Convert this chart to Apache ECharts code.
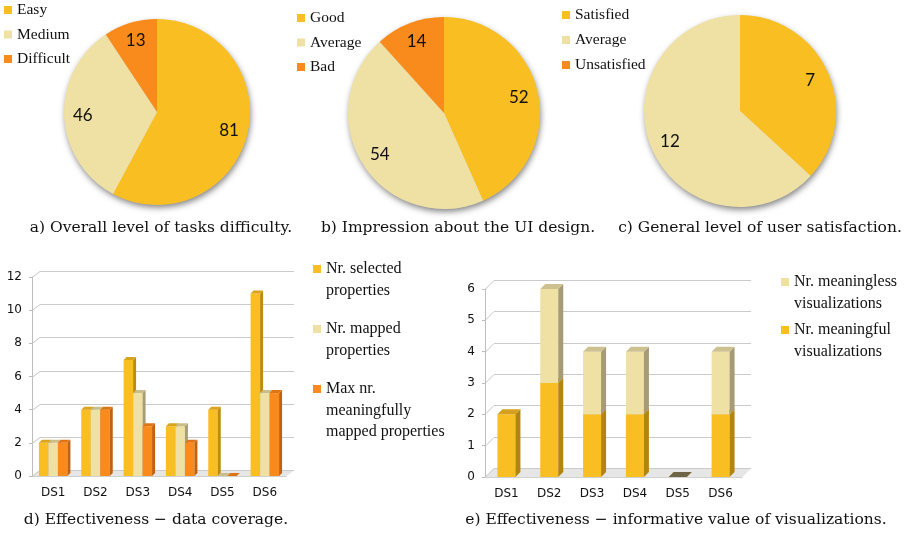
<!DOCTYPE html>
<html>
<head>
<meta charset="utf-8">
<script src="https://cdn.jsdelivr.net/npm/echarts@6/dist/echarts.min.js"></script>
<style>
html,body{margin:0;padding:0;background:#fff;}
#main{width:907px;height:534px;}
</style>
</head>
<body>
<div id="main"></div>
<script>
// pie data
var difficultyNames = ['Easy', 'Medium', 'Difficult'];
var difficultyValues = [81, 46, 13];
var designNames = ['Good', 'Average', 'Bad'];
var designValues = [52, 54, 14];
var satisfactionNames = ['Satisfied', 'Average', 'Unsatisfied'];
var satisfactionValues = [7, 12, 0];

// bar data
var datasets = ['DS1', 'DS2', 'DS3', 'DS4', 'DS5', 'DS6'];
var selectedProps = [2, 4, 7, 3, 4, 11];
var mappedProps = [2, 4, 5, 3, 0, 5];
var maxMappedProps = [2, 4, 3, 2, 0, 5];
var coverageTicks = [0, 2, 4, 6, 8, 10, 12];
var meaninglessVis = [0, 3, 2, 2, 0, 2];
var meaningfulVis = [2, 3, 2, 2, 0, 2];
var visTicks = [0, 1, 2, 3, 4, 5, 6];

var SERIF = 'Liberation Serif', CAPSERIF = 'DejaVu Serif', SANS = 'DejaVu Sans', PIEFONT = 'Lato';
var GOLD = '#F9BE22', PALE = '#EFE0A4', ORANGE = '#F98B1C';

var myChart = echarts.init(document.getElementById('main'));

function pieSeries(names, values, center, radius) {
	var colors = [GOLD, PALE, ORANGE];
	var data = [];
	for (var i = 0; i < names.length; i++) {
		data.push({name: names[i], value: values[i], itemStyle: {color: colors[i]}});
	}
	return {
		type: 'pie',
		radius: radius,
		center: center,
		startAngle: 90,
		clockwise: true,
		silent: true,
		avoidLabelOverlap: false,
		data: data,
		label: {
			show: true,
			position: 'inside',
			fontFamily: PIEFONT,
			fontSize: 17,
			color: '#111',
			formatter: function (p) { return p.value > 0 ? String(p.value) : ''; }
		},
		labelLine: {show: false},
		labelLayout: function (p) {
			var r = p.labelRect;
			var lx = r.x + r.width / 2, ly = r.y + r.height / 2;
			return {x: center[0] + (lx - center[0]) * 1.5, y: center[1] + (ly - center[1]) * 1.5};
		}
	};
}

// 3d-looking bar, drawn through the axes
function bar3d(opt) {
	return function (params, api) {
		var cat = api.value(0), val = api.value(1);
		var base = opt.stacked ? api.value(2) : 0;
		if (opt.stacked && val === 0 && base > 0) return null;
		var p0 = api.coord([cat, base]);
		var p1 = api.coord([cat, base + val]);
		var w = opt.width, d = opt.depth;
		var x = p0[0] - opt.slots * w / 2 + opt.slot * w;
		var yb = p0[1], yt = p1[1];
		var topColor = (val === 0 && opt.zeroTop) ? opt.zeroTop : opt.top;
		return {
			type: 'group',
			children: [
				{type: 'rect', shape: {x: x, y: yt, width: w, height: yb - yt}, style: {fill: opt.front}},
				{type: 'polygon', shape: {points: [[x + w, yt], [x + w + d, yt - d], [x + w + d, yb - d], [x + w, yb]]}, style: {fill: opt.side}},
				{type: 'polygon', shape: {points: [[x, yt], [x + d, yt - d], [x + w + d, yt - d], [x + w, yt]]}, style: {fill: topColor}}
			]
		};
	};
}

// back wall lines + floor
function wall(dx, dy) {
	return function (params, api) {
		var cs = params.coordSys;
		var v = api.value(1);
		var y = Math.round(api.coord([0, v])[1]) + 0.5;
		var x0 = cs.x, x1 = cs.x + cs.width;
		var kids = [
			{type: 'line', shape: {x1: x0, y1: y, x2: x0 + dx, y2: y - dy}, style: {stroke: '#c4c4c4', lineWidth: 1}},
			{type: 'line', shape: {x1: x0 + dx, y1: y - dy, x2: x1 + dx, y2: y - dy}, style: {stroke: '#cbcbcb', lineWidth: 1}}
		];
		if (v === 0) {
			kids.unshift({type: 'polygon', shape: {points: [[x0, y], [x0 + dx, y - dy], [x1 + dx, y - dy], [x1, y]]}, style: {fill: '#e6e6e6'}});
		}
		return {type: 'group', children: kids};
	};
}

function pairs(arr, base) {
	var out = [];
	for (var i = 0; i < arr.length; i++) {
		out.push(base ? [i, arr[i], base[i]] : [i, arr[i]]);
	}
	return out;
}

// legend whose icon sits on the first text line: blank lines above keep line 1 centred
function barLegend(name, lines, left, center) {
	var lh = 21.5;
	var pad = new Array(lines).join('\n');
	return {
		data: [name],
		left: left,
		top: center - (2 * lines - 1) * lh / 2,
		padding: 0,
		icon: 'rect',
		itemWidth: 8,
		itemHeight: 8,
		selectedMode: false,
		formatter: function (n) { return pad + n; },
		textStyle: {fontFamily: SERIF, fontSize: 16, color: '#111', lineHeight: lh}
	};
}

function pieLegend(names, left, top, gap) {
	return {
		data: names,
		left: left,
		top: top,
		orient: 'vertical',
		padding: 0,
		icon: 'rect',
		itemWidth: 8,
		itemHeight: 8,
		itemGap: gap,
		selectedMode: false,
		textStyle: {fontFamily: SERIF, fontSize: 15.5, color: '#111', lineHeight: 16}
	};
}

var axisGray = '#bdbdbd';
function catAxis(grid) {
	return {
		type: 'category', gridIndex: grid, data: datasets,
		axisLine: {lineStyle: {color: axisGray}},
		axisTick: {length: 5, lineStyle: {color: axisGray}},
		axisLabel: {fontFamily: SANS, fontSize: 12, color: '#111', margin: 11}
	};
}
function valAxis(grid, max, interval) {
	return {
		type: 'value', gridIndex: grid, min: 0, max: max, interval: interval,
		splitLine: {show: false},
		axisLine: {show: true, lineStyle: {color: axisGray}},
		axisTick: {show: true, length: 3, lineStyle: {color: axisGray}},
		axisLabel: {fontFamily: SANS, fontSize: 12, color: '#111', margin: 10}
	};
}

var capFont = '15.5px "' + CAPSERIF + '"';
function caption(text, x, y) {
	return {type: 'text', x: x, y: y, style: {text: text, font: capFont, fill: '#111', align: 'center', verticalAlign: 'middle'}};
}
function pieShadow(cx, cy, r) {
	return {type: 'circle', shape: {cx: cx, cy: cy, r: r - 0.5}, style: {fill: '#d8d8d8', shadowBlur: 6, shadowOffsetY: 3, shadowOffsetX: 1, shadowColor: 'rgba(0,0,0,0.5)'}};
}

var option = {
	animation: false,
	legend: [
		pieLegend(difficultyNames, 4, 2, 8.5),
		pieLegend(designNames, 297, 10, 8.5),
		pieLegend(satisfactionNames, 562, 7, 9),
		barLegend('Nr. selected\nproperties', 2, 313, 269),
		barLegend('Nr. mapped\nproperties', 2, 313, 329),
		barLegend('Max nr.\nmeaningfully\nmapped properties', 3, 313, 389),
		barLegend('Nr. meaningless\nvisualizations', 2, 781, 282),
		barLegend('Nr. meaningful\nvisualizations', 2, 781, 330)
	],
	grid: [
		{left: 32, top: 277, width: 254, height: 199},
		{left: 485, top: 289, width: 257, height: 188}
	],
	xAxis: [catAxis(0), catAxis(1)],
	yAxis: [valAxis(0, 12, 2), valAxis(1, 6, 1)],
	graphic: [
		pieShadow(157, 112, 93),
		pieShadow(444, 113, 96),
		pieShadow(740, 111, 96),
		caption('a) Overall level of tasks difficulty.', 161, 228),
		caption('b) Impression about the UI design.', 458, 228),
		caption('c) General level of user satisfaction.', 760, 228),
		caption('d) Effectiveness \u2212 data coverage.', 156, 520),
		caption('e) Effectiveness \u2212 informative value of visualizations.', 676, 520)
	],
	series: [
		pieSeries(difficultyNames, difficultyValues, [157, 112], 93),
		pieSeries(designNames, designValues, [444, 113], 96),
		pieSeries(satisfactionNames, satisfactionValues, [740, 111], 96),
		{
			type: 'custom', name: 'wallD', xAxisIndex: 0, yAxisIndex: 0, z: 1, silent: true,
			renderItem: wall(8, 6), data: coverageTicks.map(function (v) { return [0, v]; })
		},
		{
			type: 'custom', name: 'Nr. selected\nproperties', xAxisIndex: 0, yAxisIndex: 0, silent: true,
			itemStyle: {color: GOLD}, encode: {x: 0, y: 1},
			renderItem: bar3d({slot: 0, slots: 3, width: 9.5, depth: 3, front: GOLD, side: '#BD8B12', top: '#D9A31C'}),
			data: pairs(selectedProps)
		},
		{
			type: 'custom', name: 'Nr. mapped\nproperties', xAxisIndex: 0, yAxisIndex: 0, silent: true,
			itemStyle: {color: PALE}, encode: {x: 0, y: 1},
			renderItem: bar3d({slot: 1, slots: 3, width: 9.5, depth: 3, front: PALE, side: '#A89D74', top: '#CABD8C'}),
			data: pairs(mappedProps)
		},
		{
			type: 'custom', name: 'Max nr.\nmeaningfully\nmapped properties', xAxisIndex: 0, yAxisIndex: 0, silent: true,
			itemStyle: {color: ORANGE}, encode: {x: 0, y: 1},
			renderItem: bar3d({slot: 2, slots: 3, width: 9.5, depth: 3, front: ORANGE, side: '#C2620E', top: '#DE7412'}),
			data: pairs(maxMappedProps)
		},
		{
			type: 'custom', name: 'wallE', xAxisIndex: 1, yAxisIndex: 1, z: 1, silent: true,
			renderItem: wall(9, 9), data: visTicks.map(function (v) { return [0, v]; })
		},
		{
			type: 'custom', name: 'Nr. meaningful\nvisualizations', xAxisIndex: 1, yAxisIndex: 1, silent: true,
			itemStyle: {color: GOLD}, encode: {x: 0, y: 1},
			renderItem: bar3d({slot: 0, slots: 1, width: 18, depth: 5, front: GOLD, side: '#B3850F', top: '#D4A01E'}),
			data: pairs(meaningfulVis, meaningfulVis.map(function () { return 0; }))
		},
		{
			type: 'custom', name: 'Nr. meaningless\nvisualizations', xAxisIndex: 1, yAxisIndex: 1, silent: true,
			itemStyle: {color: PALE}, encode: {x: 0, y: 1},
			renderItem: bar3d({slot: 0, slots: 1, width: 18, depth: 5, front: PALE, side: '#A69B75', top: '#CEC190', stacked: true, zeroTop: '#6E6646'}),
			data: pairs(meaninglessVis, meaningfulVis)
		}
	]
};

myChart.setOption(option);
</script>
</body>
</html>
